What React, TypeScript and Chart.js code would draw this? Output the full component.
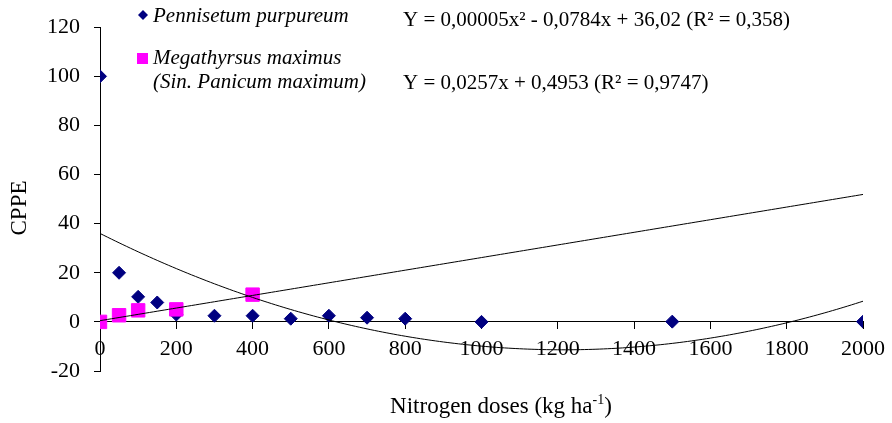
import React, { useEffect, useRef } from 'react';
import { Chart, registerables } from 'chart.js';

Chart.register(...registerables);

// ---- data ----
const pennisetumDoses = [0, 50, 100, 150, 200, 300, 400, 500, 600, 700, 800, 1000, 1500, 2000];
const pennisetumCPPE = [100, 20, 10.2, 7.9, 3, 2.5, 2.5, 1.3, 2.5, 1.7, 1.3, 0, 0.1, 0.1];
const megathyrsusDoses = [0, 50, 100, 200, 400];
const megathyrsusCPPE = [0, 2.7, 4.7, 5.1, 11.1];

// trendline coefficients (c0 + c1 x + c2 x²)
const pennisetumTrend = [36.02, -0.078, 0.0000321];
const megathyrsusTrend = [0.4953, 0.0257];
const trendDoses: number[] = [];
for (let x = 0; x <= 2000; x += 10) trendDoses.push(x);

const xTickMin = 0;
const xTickMax = 2000;
const xTickStep = 200;
const yTickMin = -20;
const yTickMax = 120;
const yTickStep = 20;

const legendLabels = ['Pennisetum purpureum', 'Megathyrsus maximus', '(Sin. Panicum maximum)'];
const equationLabels = [
  'Y = 0,00005x² - 0,0784x + 36,02 (R² = 0,358)',
  'Y = 0,0257x + 0,4953 (R² = 0,9747)',
];
const yTitle = 'CPPE';
const xTitleMain = 'Nitrogen doses (kg ha';
const xTitleSup = '-1';
const xTitleEnd = ')';

const NAVY = '#000080';
const MAGENTA = '#FF00FF';
const SERIF = '"Liberation Serif", "Times New Roman", serif';

const evalPoly = (c: number[], x: number) => c.reduce((s, v, i) => s + v * Math.pow(x, i), 0);

const overlayPlugin = {
  id: 'overlay',
  afterDraw(chart: any) {
    const ctx = chart.ctx as CanvasRenderingContext2D;
    ctx.save();
    // legend markers
    ctx.fillStyle = NAVY;
    ctx.beginPath();
    ctx.moveTo(143, 10);
    ctx.lineTo(148, 15);
    ctx.lineTo(143, 20);
    ctx.lineTo(138, 15);
    ctx.closePath();
    ctx.fill();
    ctx.fillStyle = MAGENTA;
    ctx.fillRect(137, 53, 11, 11);

    ctx.fillStyle = '#000';
    ctx.textAlign = 'left';
    ctx.textBaseline = 'alphabetic';
    ctx.font = `italic 21px ${SERIF}`;
    ctx.fillText(legendLabels[0], 153, 22);
    ctx.fillText(legendLabels[1], 153, 64);
    ctx.fillText(legendLabels[2], 153, 88);

    ctx.font = `21px ${SERIF}`;
    ctx.fillText(equationLabels[0], 403, 26);
    ctx.fillText(equationLabels[1], 403, 89);

    // y title
    ctx.save();
    ctx.translate(20, 208);
    ctx.rotate(-Math.PI / 2);
    ctx.font = `23px ${SERIF}`;
    ctx.textAlign = 'center';
    ctx.textBaseline = 'middle';
    ctx.fillText(yTitle, 0, 0);
    ctx.restore();

    // x title with superscript
    ctx.font = `23px ${SERIF}`;
    const w1 = ctx.measureText(xTitleMain).width;
    const w3 = ctx.measureText(xTitleEnd).width;
    ctx.font = `14px ${SERIF}`;
    const w2 = ctx.measureText(xTitleSup).width;
    const total = w1 + w2 + w3;
    let x = 501 - total / 2;
    const base = 413;
    ctx.font = `23px ${SERIF}`;
    ctx.fillText(xTitleMain, x, base);
    x += w1;
    ctx.font = `14px ${SERIF}`;
    ctx.fillText(xTitleSup, x, base - 9);
    x += w2;
    ctx.font = `23px ${SERIF}`;
    ctx.fillText(xTitleEnd, x, base);
    ctx.restore();
  },
};

export default function App() {
  const ref = useRef<HTMLCanvasElement | null>(null);
  useEffect(() => {
    if (!ref.current) return;
    const chart = new Chart(ref.current, {
      type: 'scatter',
      data: {
        datasets: [
          {
            type: 'line',
            label: 'Pennisetum trend',
            data: trendDoses.map((x) => ({ x, y: evalPoly(pennisetumTrend, x) })),
            borderColor: '#000',
            borderWidth: 1,
            pointRadius: 0,
            fill: false,
            tension: 0,
            order: 0,
          },
          {
            type: 'line',
            label: 'Megathyrsus trend',
            data: trendDoses.map((x) => ({ x, y: evalPoly(megathyrsusTrend, x) })),
            borderColor: '#000',
            borderWidth: 1,
            pointRadius: 0,
            fill: false,
            tension: 0,
            order: 0,
          },
          {
            label: legendLabels[1],
            data: megathyrsusDoses.map((x, i) => ({ x, y: megathyrsusCPPE[i] })),
            pointStyle: 'rect',
            pointRadius: 9.5,
            backgroundColor: MAGENTA,
            borderColor: MAGENTA,
            borderWidth: 1,
            order: 1,
          },
          {
            label: legendLabels[0],
            data: pennisetumDoses.map((x, i) => ({ x, y: pennisetumCPPE[i] })),
            pointStyle: 'rectRot',
            pointRadius: 6.5,
            backgroundColor: NAVY,
            borderColor: NAVY,
            borderWidth: 1,
            order: 2,
          },
        ],
      },
      options: {
        responsive: false,
        animation: false,
        layout: { padding: { top: 24, right: 26, bottom: 52, left: 0 } },
        plugins: { legend: { display: false }, tooltip: { enabled: false } },
        scales: {
          x: {
            type: 'linear',
            position: { y: 0 } as any,
            min: xTickMin,
            max: xTickMax,
            ticks: {
              stepSize: xTickStep,
              color: '#000',
              font: { family: SERIF, size: 22 },
              padding: 7,
              maxRotation: 0,
              callback: (v: any) => String(v),
            },
            grid: { drawOnChartArea: false, drawTicks: true, tickLength: 7, color: '#000', lineWidth: 1 },
            border: { display: true, color: '#000', width: 1 },
            afterFit: (s: any) => {
              s.height = 0;
            },
          },
          y: {
            type: 'linear',
            position: 'left',
            min: yTickMin,
            max: yTickMax,
            ticks: {
              stepSize: yTickStep,
              color: '#000',
              font: { family: SERIF, size: 22 },
              padding: 14,
              callback: (v: any) => String(v),
            },
            grid: { drawOnChartArea: false, drawTicks: true, tickLength: 6, color: '#000', lineWidth: 1 },
            border: { display: true, color: '#000', width: 1 },
            afterFit: (s: any) => {
              s.width = 100;
            },
          },
        },
      },
      plugins: [overlayPlugin],
    } as any);
    return () => chart.destroy();
  }, []);
  return (
    <div style={{ position: 'absolute', left: 0, top: 0, width: 892, height: 423, background: '#fff' }}>
      <canvas ref={ref} width={892} height={423} />
    </div>
  );
}
